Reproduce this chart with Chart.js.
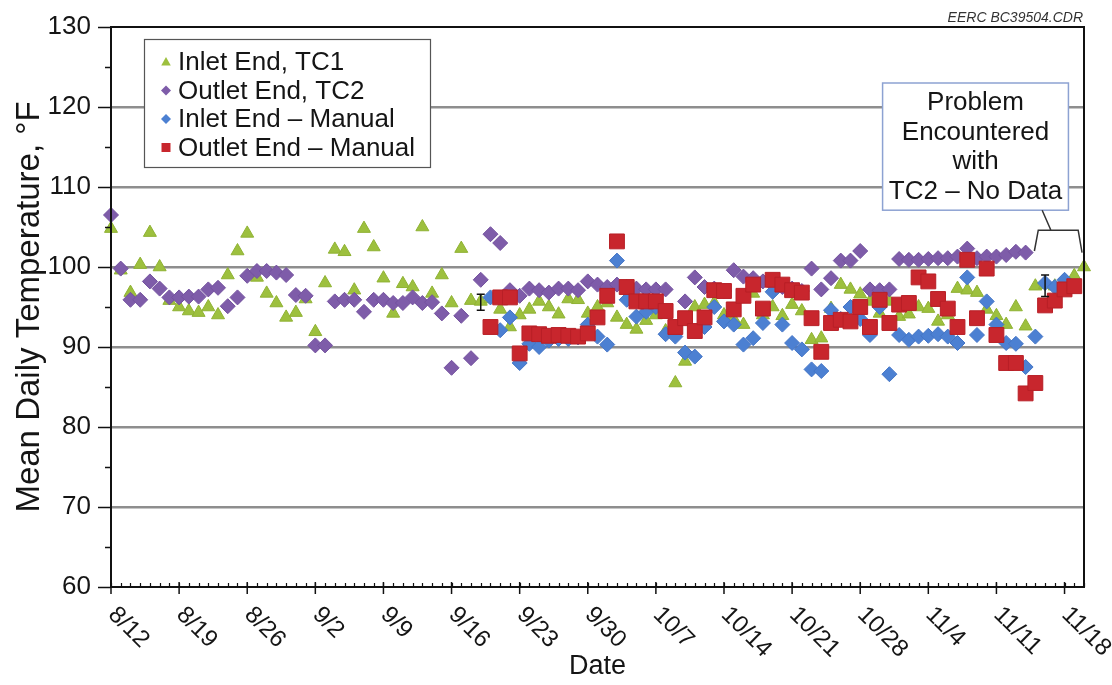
<!DOCTYPE html>
<html>
<head>
<meta charset="utf-8">
<script src="https://cdn.jsdelivr.net/npm/chart.js@4.4.1/dist/chart.umd.min.js"></script>
<style>
html,body{margin:0;padding:0;background:#fff;}
#wrap{width:1112px;height:685px;position:relative;}
</style>
</head>
<body>
<div id="wrap"><canvas id="c" width="1112" height="685"></canvas></div>
<script>
// ---------- DATA ----------
const dates = [
 '8/12','8/13','8/14','8/15','8/16','8/17','8/18','8/19','8/20','8/21','8/22','8/23','8/24','8/25','8/26','8/27','8/28','8/29','8/30','8/31',
 '9/1','9/2','9/3','9/4','9/5','9/6','9/7','9/8','9/9','9/10','9/11','9/12','9/13','9/14','9/15','9/16','9/17','9/18','9/19','9/20',
 '9/21','9/22','9/23','9/24','9/25','9/26','9/27','9/28','9/29','9/30',
 '10/1','10/2','10/3','10/4','10/5','10/6','10/7','10/8','10/9','10/10','10/11','10/12','10/13','10/14','10/15','10/16','10/17','10/18','10/19','10/20',
 '10/21','10/22','10/23','10/24','10/25','10/26','10/27','10/28','10/29','10/30','10/31',
 '11/1','11/2','11/3','11/4','11/5','11/6','11/7','11/8','11/9','11/10','11/11','11/12','11/13','11/14','11/15','11/16','11/17','11/18','11/19','11/20'
];
const tickLabels = ['8/12','8/19','8/26','9/2','9/9','9/16','9/23','9/30','10/7','10/14','10/21','10/28','11/4','11/11','11/18'];
const yTicks = [60,70,80,90,100,110,120,130];

const inletTC1 = [
 104.8, 99.6, 96.8, 100.3, 104.3, 100.0, 95.8, 95.0, 94.5, 94.3,
 95.0, 94.0, 99.0, 102.0, 104.2, 98.7, 96.7, 95.5, 93.7, 94.3,
 96.0, 91.9, 98.0, 102.2, 101.9, 97.1, 104.8, 102.5, 98.6, 94.2,
 97.9, 97.5, 105.0, 96.7, 99.0, 95.5, 102.3, 95.8, 95.7, 96.0,
 94.7, 92.5, 94.0, 94.7, 95.7, 95.0, 94.1, 96.0, 95.9, 94.2,
 95.0, 95.5, 93.7, 92.8, 92.2, 93.3, 94.0, 92.0, 85.5, 88.2,
 95.0, 95.3, 95.5, 94.0, 93.5, 92.8, 96.7, 94.0, 95.0, 93.9,
 95.3, 94.5, 90.9, 91.1, 94.8, 97.8, 97.2, 96.6, 95.7, 94.2,
 95.7, 93.8, 94.1, 95.0, 94.8, 93.2, 94.0, 97.3, 97.1, 96.8,
 94.7, 93.9, 92.8, 95.0, 92.6, 97.6, 97.8, 97.6, 98.2, 98.9,
 100.0
];
const outletTC2 = [
 106.5, 99.8, 95.9, 95.9, 98.2, 97.3, 96.2, 96.2, 96.3, 96.3,
 97.2, 97.4, 95.1, 96.2, 98.9, 99.5, 99.5, 99.3, 99.0, 96.5,
 96.4, 90.2, 90.2, 95.7, 95.9, 95.9, 94.4, 95.9, 95.9, 95.5,
 95.5, 96.2, 95.5, 95.6, 94.2, 87.4, 93.9, 88.6, 98.4, 104.1,
 103.0, 97.1, 96.4, 97.3, 97.1, 96.8, 97.3, 97.3, 97.1, 98.2,
 97.8, 97.5, 97.8, 97.5, 97.3, 97.2, 97.2, 97.2, null, 95.7,
 98.7, 97.5, 97.3, 97.0, 99.6, 98.8, 98.6, 98.2, 97.8, 97.5,
 97.3, 97.0, 99.8, 97.2, 98.6, 100.8, 100.8, 102.0, 97.2, 97.1,
 97.2, 101.0, 100.9, 100.9, 101.0, 101.1, 101.1, 101.3, 102.3, 101.1,
 101.3, 101.3, 101.5, 101.9, 101.8, null, null, null, null, null,
 null
];
const inletManual = [
 null, null, null, null, null, null, null, null, null, null,
 null, null, null, null, null, null, null, null, null, null,
 null, null, null, null, null, null, null, null, null, null,
 null, null, null, null, null, null, null, null, null, 96.2,
 92.1, 93.7, 88.0, 90.4, 90.0, 90.8, 91.0, 91.0, 91.2, 92.8,
 91.3, 90.3, 100.8, 95.9, 93.8, 94.4, 95.0, 91.6, 91.3, 89.3,
 88.8, 92.5, 95.0, 93.2, 92.8, 90.3, 91.1, 93.0, 96.9, 92.8,
 90.5, 89.7, 87.2, 87.0, 94.6, 93.5, 95.0, 93.5, 91.5, 95.0,
 86.6, 91.5, 90.9, 91.3, 91.4, 91.6, 91.3, 90.5, 98.7, 91.5,
 95.7, 92.8, 90.5, 90.4, 87.5, 91.3, 98.0, 97.5, 98.4, null,
 null
];
const outletManual = [
 null, null, null, null, null, null, null, null, null, null,
 null, null, null, null, null, null, null, null, null, null,
 null, null, null, null, null, null, null, null, null, null,
 null, null, null, null, null, null, null, null, null, 92.5,
 96.2, 96.2, 89.2, 91.7, 91.6, 91.4, 91.5, 91.4, 91.3, 91.7,
 93.7, 96.4, 103.2, 97.5, 95.7, 95.7, 95.7, 94.5, 92.5, 93.6,
 92.0, 93.7, 97.1, 97.0, 94.7, 96.4, 97.8, 94.8, 98.4, 97.8,
 97.1, 96.8, 93.6, 89.4, 93.0, 93.4, 93.2, 95.0, 92.5, 95.9,
 93.0, 95.3, 95.5, 98.7, 98.2, 96.0, 94.8, 92.5, 100.9, 93.6,
 99.8, 91.5, 88.0, 88.0, 84.2, 85.5, 95.2, 95.8, 97.2, 97.6,
 null
];
// error bars on Inlet End, TC1
const errDays = ['9/19', '11/16'];
const errLow  = [94.6, 96.3];
const errHigh = [96.6, 99.0];

const noteLines = ['Problem', 'Encountered', 'with', 'TC2 \u2013 No Data'];
const fileTag = 'EERC BC39504.CDR';

// ---------- STYLE ----------
const FONT = "'Liberation Sans', Arial, Helvetica, sans-serif";
const TXT = '#151515';

const customDraw = {
  id: 'customDraw',
  afterDraw(chart) {
    const ctx = chart.ctx, a = chart.chartArea;
    const xs = chart.scales.x, ys = chart.scales.y;
    ctx.save();

    // error bars
    ctx.strokeStyle = '#111'; ctx.lineWidth = 1.5;
    errDays.forEach((d, i) => {
      const px = xs.getPixelForValue(dates.indexOf(d));
      const y1 = ys.getPixelForValue(errLow[i]), y2 = ys.getPixelForValue(errHigh[i]);
      ctx.beginPath();
      ctx.moveTo(px, y1); ctx.lineTo(px, y2);
      ctx.moveTo(px - 4, y1); ctx.lineTo(px + 4, y1);
      ctx.moveTo(px - 4, y2); ctx.lineTo(px + 4, y2);
      ctx.stroke();
    });

    // plot frame
    ctx.strokeStyle = '#111'; ctx.lineWidth = 2;
    ctx.strokeRect(a.left, a.top, a.right - a.left, a.bottom - a.top);

    // x ticks (daily minor inside, weekly major outside)
    ctx.lineWidth = 1.2;
    ctx.beginPath();
    dates.forEach((d, i) => {
      const px = Math.round(xs.getPixelForValue(i)) + 0.5;
      ctx.moveTo(px, a.bottom); ctx.lineTo(px, a.bottom - 4);
    });
    ctx.stroke();
    ctx.lineWidth = 1.5;
    ctx.fillStyle = TXT;
    ctx.font = '24px ' + FONT;
    tickLabels.forEach(lbl => {
      const px = xs.getPixelForValue(dates.indexOf(lbl));
      ctx.beginPath(); ctx.moveTo(px, a.bottom - 5); ctx.lineTo(px, a.bottom + 7); ctx.stroke();
      ctx.save();
      ctx.translate(px + 1, a.bottom + 24);
      ctx.rotate(Math.PI / 4);
      ctx.textAlign = 'left'; ctx.textBaseline = 'middle';
      ctx.fillText(lbl, 0, 0);
      ctx.restore();
    });

    // y ticks (major 10, minor 5)
    ctx.beginPath();
    for (let v = ys.min; v <= ys.max; v += 5) {
      const py = Math.round(ys.getPixelForValue(v)) + 0.5;
      const len = (v % 10 === 0) ? 13 : 6;
      ctx.moveTo(a.left - len, py); ctx.lineTo(a.left, py);
    }
    ctx.stroke();

    // legend box
    const lx = a.left + 33, ly = a.top + 12, lw = 286, lh = 128;
    ctx.fillStyle = '#fff';
    ctx.fillRect(lx, ly, lw, lh);
    ctx.strokeStyle = '#555'; ctx.lineWidth = 1.2;
    ctx.strokeRect(lx + 0.5, ly + 0.5, lw, lh);
    ctx.font = '26px ' + FONT;
    ctx.textAlign = 'left'; ctx.textBaseline = 'middle';
    chart.data.datasets.forEach((ds, i) => {
      const cy = ly + 23 + i * 28.5, cx = lx + 22;
      ctx.fillStyle = ds.backgroundColor;
      ctx.beginPath();
      const r = 5;
      if (ds.pointStyle === 'triangle') {
        ctx.moveTo(cx, cy - r); ctx.lineTo(cx + r * 0.95, cy + r * 0.7); ctx.lineTo(cx - r * 0.95, cy + r * 0.7);
      } else if (ds.pointStyle === 'rectRot') {
        ctx.moveTo(cx - r, cy); ctx.lineTo(cx, cy - r); ctx.lineTo(cx + r, cy); ctx.lineTo(cx, cy + r);
      } else {
        ctx.rect(cx - 4.5, cy - 4.5, 9, 9);
      }
      ctx.closePath(); ctx.fill();
      ctx.fillStyle = TXT;
      ctx.fillText(ds.label, lx + 34, cy + 1);
    });

    // annotation box
    const bx0 = xs.getPixelForValue(79.3), bx1 = xs.getPixelForValue(98.4);
    const by0 = ys.getPixelForValue(123.0), by1 = ys.getPixelForValue(107.1);
    ctx.fillStyle = '#fff';
    ctx.fillRect(bx0, by0, bx1 - bx0, by1 - by0);
    ctx.strokeStyle = '#8da2d2'; ctx.lineWidth = 1.5;
    ctx.strokeRect(bx0, by0, bx1 - bx0, by1 - by0);
    ctx.fillStyle = TXT;
    ctx.font = '26px ' + FONT;
    ctx.textAlign = 'center'; ctx.textBaseline = 'middle';
    const cxn = (bx0 + bx1) / 2;
    noteLines.forEach((t, i) => ctx.fillText(t, cxn, by0 + 20 + i * 29.5));

    // leader + bracket
    ctx.strokeStyle = '#333'; ctx.lineWidth = 1.5;
    ctx.beginPath();
    ctx.moveTo(xs.getPixelForValue(95.7), by1);
    ctx.lineTo(xs.getPixelForValue(96.6), ys.getPixelForValue(104.6));
    ctx.moveTo(xs.getPixelForValue(94.9), ys.getPixelForValue(102.0));
    ctx.lineTo(xs.getPixelForValue(95.3), ys.getPixelForValue(104.6));
    ctx.lineTo(xs.getPixelForValue(99.4), ys.getPixelForValue(104.6));
    ctx.lineTo(xs.getPixelForValue(99.8), ys.getPixelForValue(101.8));
    ctx.stroke();

    // file tag
    ctx.fillStyle = '#333';
    ctx.font = 'italic 14px ' + FONT;
    ctx.textAlign = 'right'; ctx.textBaseline = 'middle';
    ctx.fillText(fileTag, a.right - 1, 18);

    ctx.restore();
  }
};

new Chart(document.getElementById('c'), {
  type: 'line',
  data: {
    labels: dates,
    datasets: [
      { label: 'Inlet End, TC1', data: inletTC1, pointStyle: 'triangle', pointRadius: 7.5,
        backgroundColor: '#9dc03e', borderColor: '#8fb233', pointBorderWidth: 1, showLine: false, order: 3 },
      { label: 'Outlet End, TC2', data: outletTC2, pointStyle: 'rectRot', pointRadius: 7.5,
        backgroundColor: '#7e5ca9', borderColor: '#74529f', pointBorderWidth: 1, showLine: false, order: 2 },
      { label: 'Inlet End \u2013 Manual', data: inletManual, pointStyle: 'rectRot', pointRadius: 7.5,
        backgroundColor: '#4c80d2', borderColor: '#4475c6', pointBorderWidth: 1, showLine: false, order: 1 },
      { label: 'Outlet End \u2013 Manual', data: outletManual, pointStyle: 'rect', pointRadius: 10.5,
        backgroundColor: '#c8262d', borderColor: '#b81f26', pointBorderWidth: 1, showLine: false, order: 0 }
    ]
  },
  options: {
    responsive: false,
    animation: false,
    events: [],
    layout: { padding: { top: 27, right: 28, left: 0, bottom: 0 } },
    plugins: { legend: { display: false }, tooltip: { enabled: false } },
    scales: {
      x: {
        type: 'category',
        offset: false,
        grid: { display: false },
        border: { display: false },
        ticks: { display: false },
        title: { display: true, text: 'Date', color: TXT, font: { family: FONT, size: 27 }, padding: { top: 0, bottom: 2 } },
        afterFit(s) { s.height = 98; s.paddingLeft = 0; s.paddingRight = 0; }
      },
      y: {
        min: 60, max: 130,
        afterBuildTicks(s) { s.ticks = yTicks.map(v => ({ value: v })); },
        grid: {
          drawTicks: false,
          lineWidth: 2.5,
          color: c => (c.tick && (c.tick.value === 60 || c.tick.value === 130)) ? 'rgba(0,0,0,0)' : '#8e8e8e'
        },
        border: { display: false },
        ticks: { color: TXT, font: { family: FONT, size: 26 }, padding: 20 },
        title: { display: true, text: 'Mean Daily Temperature, \u00b0F', color: TXT, font: { family: FONT, size: 33 }, padding: { top: 10, bottom: 0 } },
        afterFit(s) { s.width = 111; s.paddingTop = 0; s.paddingBottom = 0; }
      }
    }
  },
  plugins: [customDraw]
});
</script>
</body>
</html>
